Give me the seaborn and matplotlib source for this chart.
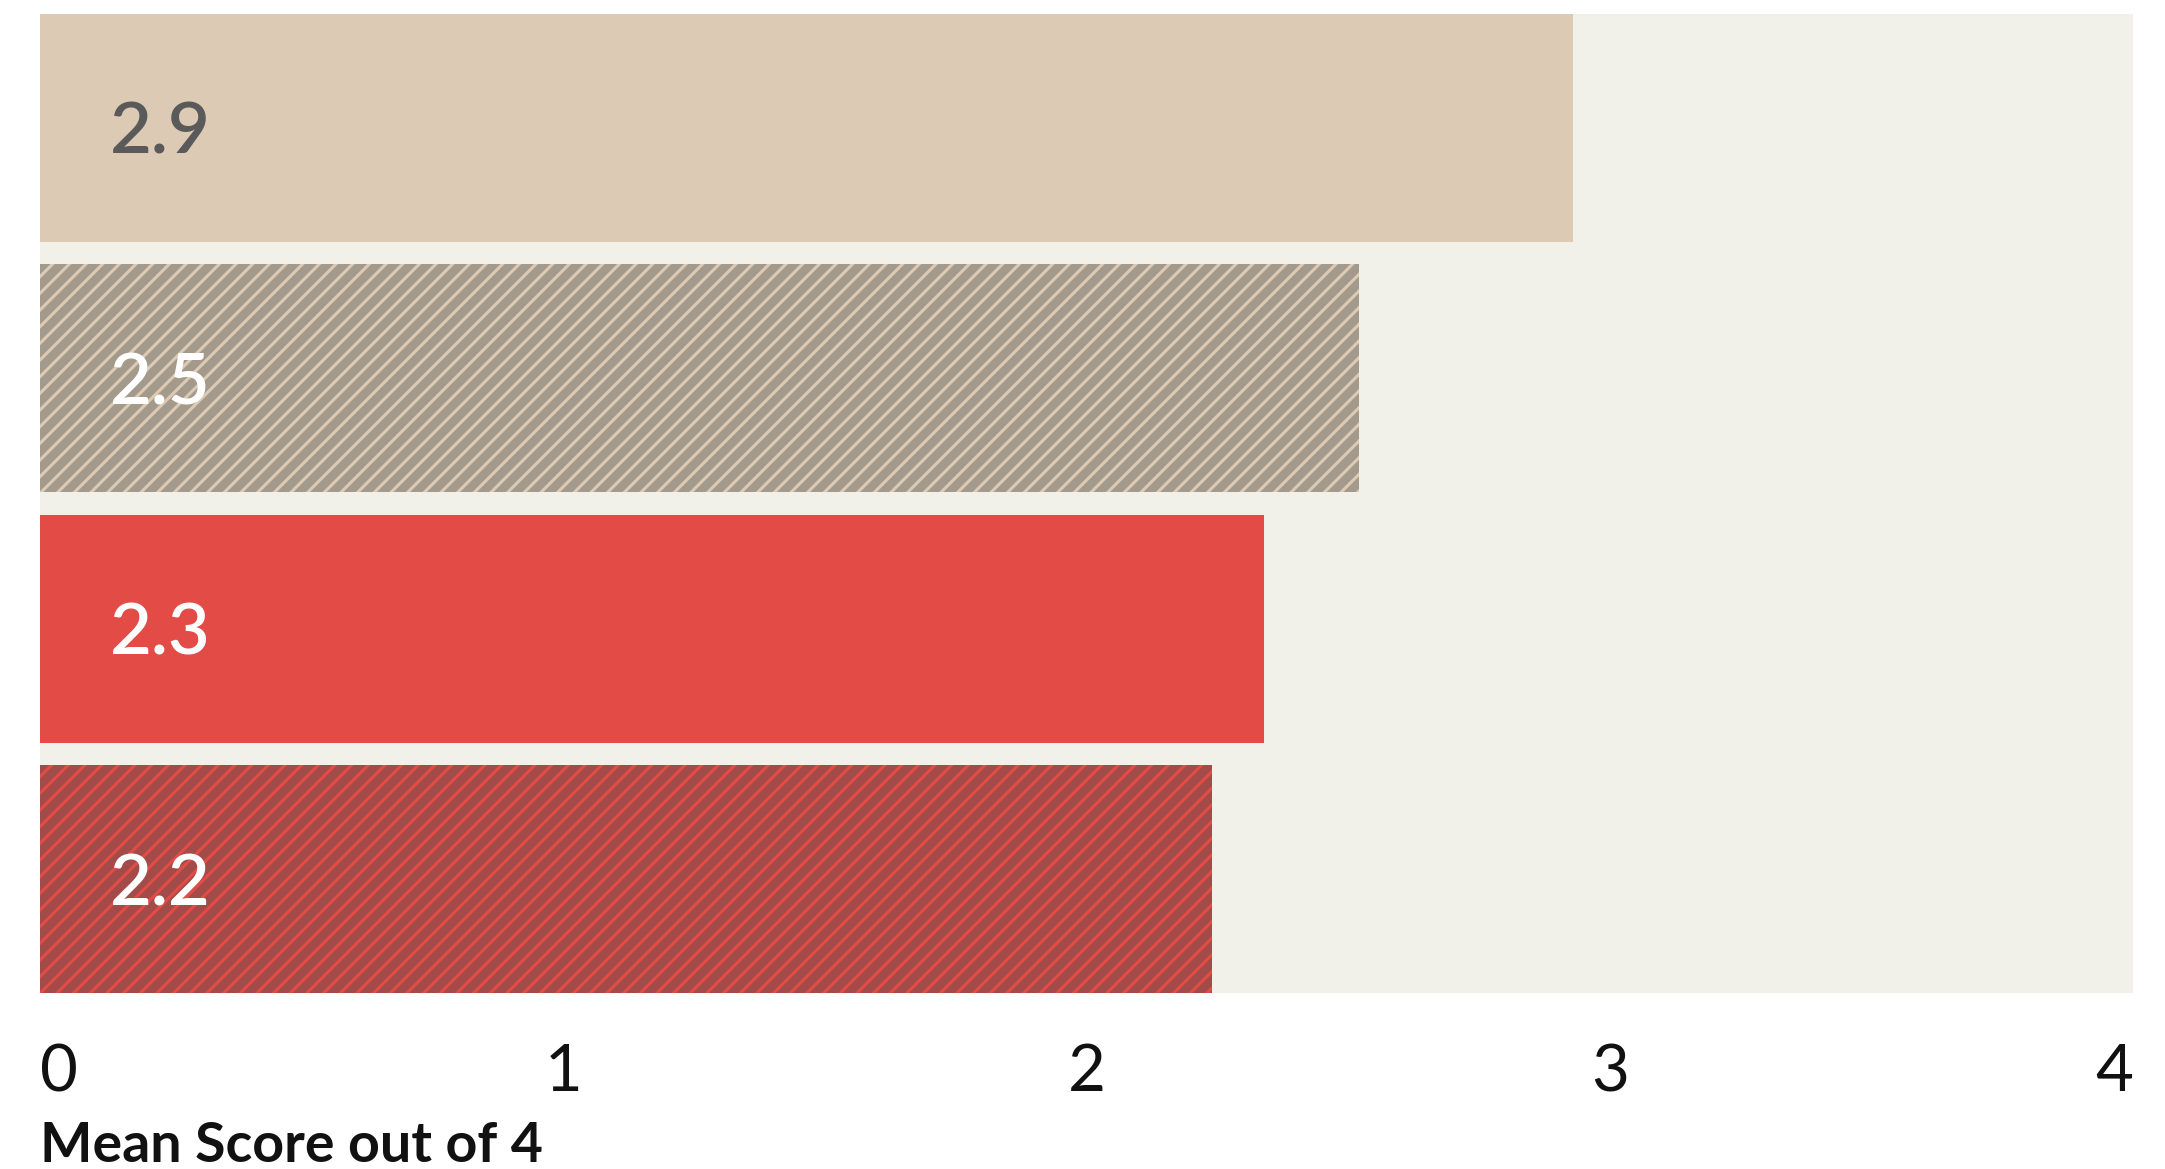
import matplotlib
matplotlib.use("Agg")
import matplotlib.pyplot as plt
import seaborn as sns
import pandas as pd

# Data
groups = ["Group A", "Group B", "Group C", "Group D"]
scores = [2.93, 2.52, 2.34, 2.24]
tick_values = [0, 1, 2, 3, 4]
tick_labels = ["0", "1", "2", "3", "4"]
axis_title = "Mean Score out of 4"

# Styling
fill_colors = ["#DCCAB5", "#A39A8C", "#E24B46", "#A34B48"]
stripe_colors = [None, "#DCCAB5", None, "#E24B46"]
label_colors = ["#5A5A5A", "#FFFFFF", "#FFFFFF", "#FFFFFF"]

sns.set_theme(style="white")
plt.rcParams["font.family"] = ["Lato", "DejaVu Sans"]
plt.rcParams["hatch.linewidth"] = 2.2

df = pd.DataFrame({"group": groups, "score": scores})

fig = plt.figure(figsize=(21.65, 11.69), dpi=100)
fig.patch.set_facecolor("white")
ax = fig.add_axes([40 / 2165, 1 - 993 / 1169, (2133 - 40) / 2165, (993 - 14) / 1169])
ax.set_facecolor("#F1F0E9")

bar_w = 0.909
sns.barplot(data=df, y="group", x="score", hue="group", palette=fill_colors,
            orient="h", width=bar_w, dodge=False, legend=False, ax=ax,
            saturation=1)

for patch, stripe in zip(ax.patches, stripe_colors):
    patch.set_linewidth(0)
    if stripe is not None:
        patch.set_hatch("//")
        patch.set_edgecolor(stripe)

# Value labels inside bars
for i, (val, col) in enumerate(zip(scores, label_colors)):
    ax.annotate(f"{val:.1f}", xy=(0, i), xytext=(70, -6), textcoords="offset pixels",
                ha="left", va="center", fontsize=52, fontweight="semibold", color=col)

ax.set_xlim(0, 4)
ax.set_ylim(len(groups) - 1 + bar_w / 2, -bar_w / 2)
ax.set_xticks(tick_values)
ax.set_xticklabels(tick_labels, fontsize=47, fontweight="normal", color="#111111")
xt = ax.get_xticklabels()
xt[0].set_horizontalalignment("left")
xt[-1].set_horizontalalignment("right")
ax.tick_params(axis="x", length=0, pad=36)
ax.set_yticks([])
ax.set_ylabel("")
ax.set_xlabel(axis_title, loc="left", fontsize=40, fontweight="bold", labelpad=14,
              color="#111111")
for s in ax.spines.values():
    s.set_visible(False)

fig.savefig("out.png", dpi=100, facecolor="white")
